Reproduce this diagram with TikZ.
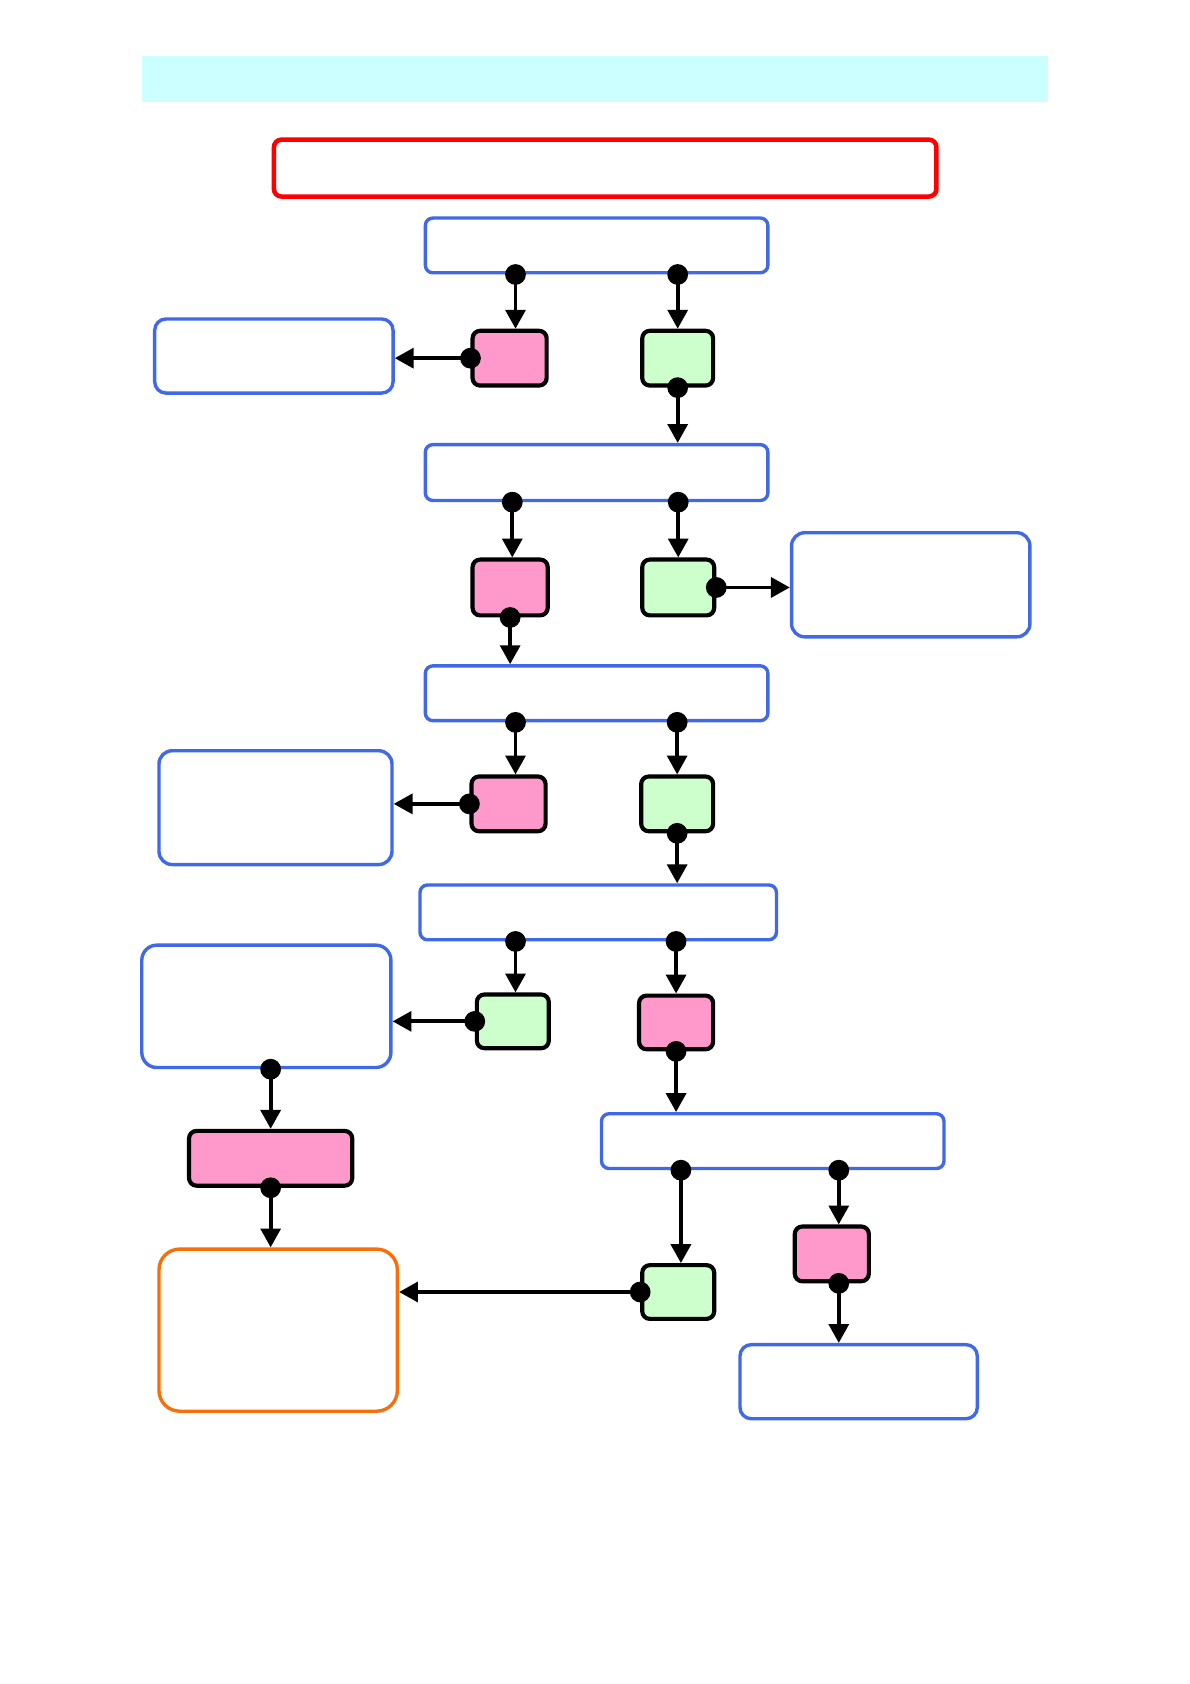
\documentclass[tikz,border=0pt]{standalone}
\usepackage{tikz}
\usetikzlibrary{arrows.meta,calc}
\definecolor{rblue}{RGB}{65,105,230}
\definecolor{rpink}{RGB}{255,153,204}
\definecolor{rgreen}{RGB}{204,255,204}
\definecolor{rcyan}{RGB}{204,255,255}
\definecolor{rorange}{RGB}{245,112,10}
\begin{document}
\begin{tikzpicture}[x=0.02cm,y=-0.02cm,
  frame/.style={draw=rblue,line width=1.8pt,rounded corners=4pt,fill=white,inner sep=0pt},
  pinkbox/.style={draw=black,line width=2.2pt,rounded corners=4pt,fill=rpink,inner sep=0pt,minimum height=1.02cm},
  greenbox/.style={draw=black,line width=2.2pt,rounded corners=4pt,fill=rgreen,inner sep=0pt,minimum height=1.02cm},
  joint/.style={circle,fill=black,inner sep=0pt,minimum size=11pt},
  link/.style={line width=2pt,-{Triangle[length=10pt,width=10.5pt]}}]
\useasboundingbox (0,0) rectangle (1108,1568);
\fill[rcyan] (132,52) rectangle (976,95);

\node[draw=red,line width=2.4pt,rounded corners=4pt,minimum width=12.34cm,minimum height=1.06cm,inner sep=0pt] (title) at (563.5,156.5) {};

\node[frame,minimum width=6.38cm,minimum height=1.02cm] (b1) at (555.5,228.5) {};
\node[frame,minimum width=6.38cm,minimum height=1.04cm] (b2) at (555.5,440) {};
\node[frame,minimum width=6.38cm,minimum height=1.02cm] (b3) at (555.5,645.5) {};
\node[frame,minimum width=6.64cm,minimum height=1.02cm] (b4) at (557,849.5) {};
\node[frame,minimum width=6.38cm,minimum height=1.02cm] (b5) at (719.5,1062.5) {};

\node[frame,rounded corners=6pt,minimum width=4.44cm,minimum height=1.38cm] (l1) at (255,331.5) {};
\node[frame,rounded corners=7pt,minimum width=4.44cm,minimum height=1.94cm] (r1) at (848,544.5) {};
\node[frame,rounded corners=7pt,minimum width=4.34cm,minimum height=2.12cm] (l2) at (256.5,752) {};
\node[frame,rounded corners=8pt,minimum width=4.64cm,minimum height=2.28cm] (l3) at (248,937) {};
\node[frame,rounded corners=6pt,minimum width=4.42cm,minimum height=1.38cm] (b6) at (799.5,1286.5) {};
\node[draw=rorange,line width=1.8pt,rounded corners=11pt,minimum width=4.44cm,minimum height=3.02cm,inner sep=0pt] (o1) at (259,1238.5) {};

\node[pinkbox,minimum width=1.38cm] (p1) at (474.5,333.5) {};
\node[greenbox,minimum width=1.32cm] (g1) at (631,333.5) {};
\node[pinkbox,minimum width=1.40cm,minimum height=1.04cm] (p2) at (475,547) {};
\node[greenbox,minimum width=1.34cm,minimum height=1.04cm] (g2) at (631.5,547) {};
\node[pinkbox,minimum width=1.38cm] (p3) at (473.5,748.5) {};
\node[greenbox,minimum width=1.34cm] (g3) at (630.5,748.5) {};
\node[greenbox,minimum width=1.34cm,minimum height=1.0cm] (g4) at (477.5,951) {};
\node[pinkbox,minimum width=1.38cm,minimum height=1.0cm] (p4) at (629.5,952) {};
\node[pinkbox,minimum width=3.04cm] (p5) at (252,1078.5) {};
\node[greenbox,minimum width=1.34cm,minimum height=1.0cm] (g5) at (631.5,1203) {};
\node[pinkbox,minimum width=1.38cm] (p6) at (774.5,1167.5) {};

\foreach \a/\b/\d in {b1/p1/5.5,b1/g1/0,b2/p2/2,b2/g2/0,b3/p3/6.5,b3/g3/0,b4/g4/2.5,b4/p4/0,l3/p5/0,b5/g5/2.5,b5/p6/6.5}
  \draw[link] ($(\b.north |- \a.south)+(\d,0)$) node[joint] {} -- ($(\b.north)+(\d,0)$);

\foreach \a/\b/\d in {g1/b2/0,p2/b3/0,g3/b4/0,p5/o1/0,p4/b5/0,p6/b6/6.5}
  \draw[link] ($(\a.south)+(\d,0)$) node[joint] {} -- ($(\a.south |- \b.north)+(\d,0)$);

\foreach \a/\b in {p1/l1,p3/l2,g4/l3,g5/o1}
  \draw[link] (\a.west) node[joint] {} -- (\a.west -| \b.east);

\draw[link] (g2.east) node[joint] {} -- (g2.east -| r1.west);
\end{tikzpicture}
\end{document}
